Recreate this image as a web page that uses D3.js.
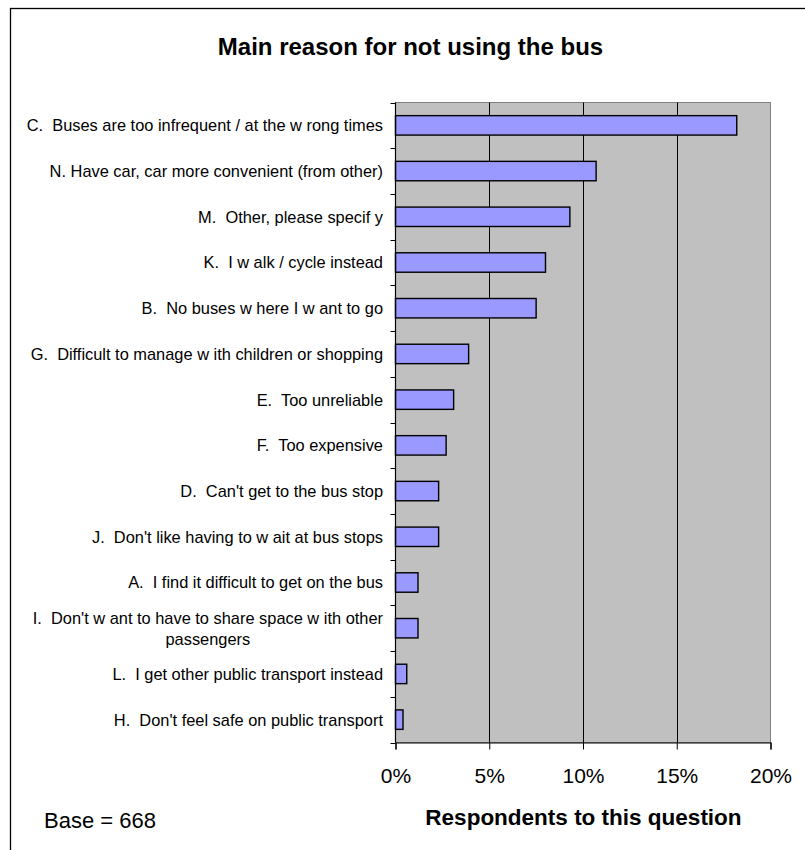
<!DOCTYPE html>
<html>
<head>
<meta charset="utf-8">
<script src="https://cdn.jsdelivr.net/npm/d3@7"></script>
<style>
  html, body { margin: 0; padding: 0; background: #fff; }
  svg { display: block; font-family: "Liberation Sans", Arial, sans-serif; }
  svg text { white-space: pre; }
</style>
</head>
<body>
<svg id="chart" width="805" height="850"></svg>
<script>
// ---- data ----
const categories = [
  "C.  Buses are too infrequent / at the w rong times",
  "N. Have car, car more convenient (from other)",
  "M.  Other, please specif y",
  "K.  I w alk / cycle instead",
  "B.  No buses w here I w ant to go",
  "G.  Difficult to manage w ith children or shopping",
  "E.  Too unreliable",
  "F.  Too expensive",
  "D.  Can't get to the bus stop",
  "J.  Don't like having to w ait at bus stops",
  "A.  I find it difficult to get on the bus",
  "I.  Don't w ant to have to share space w ith other|passengers",
  "L.  I get other public transport instead",
  "H.  Don't feel safe on public transport"
];
const values = [18.2, 10.7, 9.3, 8.0, 7.5, 3.9, 3.1, 2.7, 2.3, 2.3, 1.2, 1.2, 0.6, 0.4];
const xTicks = [0, 5, 10, 15, 20];
const chartTitle = "Main reason for not using the bus";
const xTitle = "Respondents to this question";
const baseNote = "Base = 668";

// ---- layout ----
const svg = d3.select("#chart");
const plot = { left: 395.5, right: 770.5, top: 102.5, bottom: 742.5 };

const x = d3.scaleLinear().domain([0, 20]).range([plot.left, plot.right]);
const y = d3.scaleBand().domain(categories).range([plot.top, plot.bottom])
  .paddingInner(0.575).paddingOuter(0.2875);

// outer frame (only left/top visible in the picture)
svg.append("rect")
  .attr("x", 10.5).attr("y", 8.5).attr("width", 1000).attr("height", 1000)
  .attr("fill", "none").attr("stroke", "#000").attr("stroke-width", 1.3);

// title
svg.append("text")
  .attr("x", 410.5).attr("y", 55)
  .attr("text-anchor", "middle")
  .attr("font-size", 24).attr("font-weight", "bold")
  .text(chartTitle);

// plot background
svg.append("rect")
  .attr("x", plot.left).attr("y", plot.top)
  .attr("width", plot.right - plot.left).attr("height", plot.bottom - plot.top)
  .attr("fill", "#C0C0C0").attr("stroke", "#808080").attr("stroke-width", 1);

// gridlines
svg.append("g").selectAll("line")
  .data(xTicks.filter(d => d > 0 && d < 20))
  .join("line")
  .attr("x1", d => Math.round(x(d)) + 0.5).attr("x2", d => Math.round(x(d)) + 0.5)
  .attr("y1", plot.top).attr("y2", plot.bottom)
  .attr("stroke", "#000").attr("stroke-width", 1);

// bars
svg.append("g").selectAll("rect")
  .data(categories.map((c, i) => ({ c, v: values[i] })))
  .join("rect")
  .attr("x", x(0))
  .attr("y", d => y(d.c))
  .attr("width", d => x(d.v) - x(0))
  .attr("height", y.bandwidth())
  .attr("fill", "#9999FF")
  .attr("stroke", "#000").attr("stroke-width", 1.4);

// x axis
const xAxis = d3.axisBottom(x)
  .tickValues(xTicks)
  .tickFormat(d => d + "%")
  .tickSize(7)
  .tickPadding(19);
const gx = svg.append("g")
  .attr("transform", `translate(0,${plot.bottom})`)
  .call(xAxis);
gx.select(".domain").attr("stroke", "#000").attr("stroke-width", 1.2);
gx.selectAll(".tick line").attr("stroke", "#000");
gx.selectAll(".tick text")
  .attr("font-family", "Liberation Sans, Arial, sans-serif")
  .attr("font-size", 21).attr("fill", "#000");

// y axis line + boundary ticks
const step = y.step();
const bounds = d3.range(categories.length + 1).map(i => plot.top + i * step);
svg.append("line")
  .attr("x1", plot.left).attr("x2", plot.left)
  .attr("y1", plot.top).attr("y2", plot.bottom)
  .attr("stroke", "#000").attr("stroke-width", 1.2);
svg.append("g").selectAll("line")
  .data(bounds)
  .join("line")
  .attr("x1", plot.left - 5).attr("x2", plot.left)
  .attr("y1", d => Math.round(d) + 0.5).attr("y2", d => Math.round(d) + 0.5)
  .attr("stroke", "#000").attr("stroke-width", 1);

// category labels
const labelRight = 383;
const labelFont = 16.4;
const lineH = 21;
const gl = svg.append("g")
  .attr("font-size", labelFont).attr("fill", "#000");
categories.forEach(c => {
  const lines = c.split("|");
  const cy = y(c) + y.bandwidth() / 2;
  if (lines.length === 1) {
    gl.append("text")
      .attr("x", labelRight).attr("y", cy).attr("dy", "0.36em")
      .attr("text-anchor", "end").text(lines[0]);
  } else {
    const t = gl.append("text").attr("text-anchor", "middle");
    const tmp = lines.map(l => t.append("tspan").text(l));
    const w = d3.max(tmp, s => s.node().getComputedTextLength());
    const cx = labelRight - w / 2;
    const y0 = cy - (lines.length - 1) * lineH / 2;
    tmp.forEach((s, i) => s.attr("x", cx).attr("y", y0 + i * lineH).attr("dy", "0.36em"));
  }
});

// x title
svg.append("text")
  .attr("x", 583.5).attr("y", 825)
  .attr("text-anchor", "middle")
  .attr("font-size", 22.5).attr("font-weight", "bold")
  .text(xTitle);

// base note
svg.append("text")
  .attr("x", 44).attr("y", 828)
  .attr("font-size", 22)
  .text(baseNote);
</script>
</body>
</html>
